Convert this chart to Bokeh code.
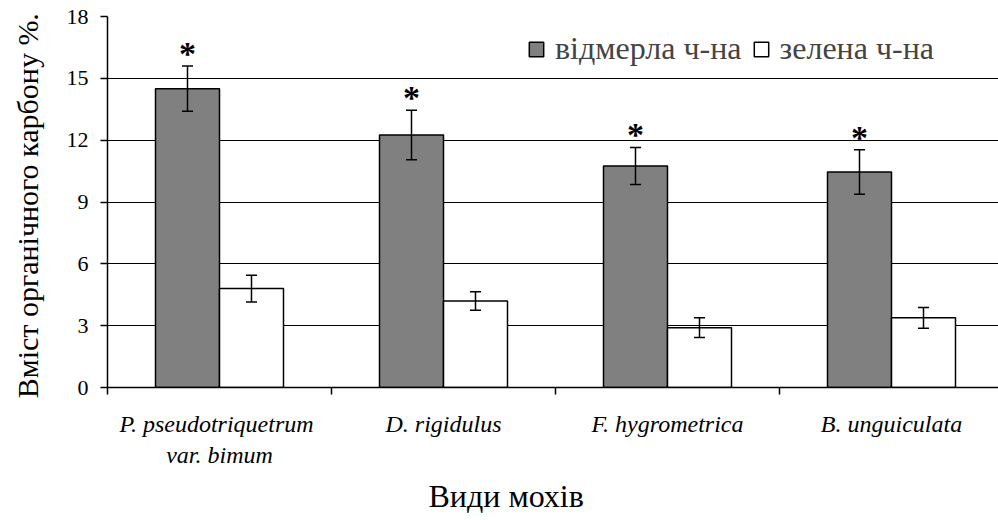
from bokeh.plotting import figure
from bokeh.models import (FixedTicker, ColumnDataSource, Whisker, TeeHead, Legend,
                          LegendItem, Title, Range1d)
from bokeh.core.properties import value
from bokeh.embed import file_html
from bokeh.resources import INLINE

species = ["P.  pseudotriquetrum\nvar. bimum", "D. rigidulus", "F. hygrometrica", "B. unguiculata"]
dead = [14.5, 12.25, 10.75, 10.45]
dead_err = [1.1, 1.2, 0.9, 1.08]
green = [4.8, 4.2, 2.9, 3.38]
green_err = [0.65, 0.45, 0.48, 0.5]
y_ticks = [0, 3, 6, 9, 12, 15, 18]

SERIF = "Liberation Serif"
BW = 0.2857

p = figure(width=998, height=520, output_backend="svg", toolbar_location=None,
           x_range=Range1d(0, 891 / 224), y_range=Range1d(0, 18),
           min_border_left=107, min_border_right=0, min_border_top=16, min_border_bottom=133)
p.outline_line_color = None
p.background_fill_color = "white"

centers = [i + 0.5 for i in range(len(species))]
xd = [c - BW / 2 for c in centers]
xg = [c + BW / 2 for c in centers]

src = ColumnDataSource(dict(
    xd=xd, xg=xg, dead=dead, green=green,
    d_up=[v + e for v, e in zip(dead, dead_err)],
    d_lo=[v - e for v, e in zip(dead, dead_err)],
    g_up=[v + e for v, e in zip(green, green_err)],
    g_lo=[v - e for v, e in zip(green, green_err)],
    star_y=[v + e + 0.62 for v, e in zip(dead, dead_err)],
    star=["*"] * len(dead),
))

r1 = p.vbar(x="xd", top="dead", width=BW, source=src, fill_color="#808080",
            line_color="black", line_width=1.5)
r2 = p.vbar(x="xg", top="green", width=BW, source=src, fill_color="white",
            line_color="black", line_width=1.5)

for base, up, lo in (("xd", "d_up", "d_lo"), ("xg", "g_up", "g_lo")):
    w = Whisker(base=base, upper=up, lower=lo, source=src, dimension="height",
                line_color="black", line_width=1.5, level="overlay",
                upper_head=TeeHead(size=11, line_color="black", line_width=1.5),
                lower_head=TeeHead(size=11, line_color="black", line_width=1.5))
    p.add_layout(w)

p.text(x="xd", y="star_y", text="star", source=src, text_font=value(SERIF),
       text_font_size="34px", text_font_style="bold", text_align="center",
       text_baseline="middle", text_color="black")

# axes
p.yaxis.ticker = FixedTicker(ticks=y_ticks)
p.yaxis.major_label_text_font = SERIF
p.yaxis.major_label_text_font_size = "22px"
p.yaxis.major_label_text_color = "black"
p.yaxis.major_tick_out = 7
p.yaxis.major_tick_in = 0
p.yaxis.minor_tick_line_color = None
p.yaxis.axis_line_width = 1.5
p.yaxis.axis_line_color = "black"
p.yaxis.major_tick_line_width = 1.5
p.yaxis.major_label_standoff = 12
p.yaxis.axis_label = "Вміст органічного карбону  %."
p.yaxis.axis_label_text_font = SERIF
p.yaxis.axis_label_text_font_size = "30px"
p.yaxis.axis_label_text_font_style = "normal"
p.yaxis.axis_label_text_color = "black"
p.yaxis.axis_label_standoff = 20

p.xaxis.ticker = FixedTicker(ticks=centers, minor_ticks=list(range(len(species) + 1)))
p.xaxis.major_label_overrides = {c: s for c, s in zip(centers, species)}
p.xaxis.major_tick_line_color = None
p.xaxis.minor_tick_out = 7
p.xaxis.minor_tick_in = 0
p.xaxis.minor_tick_line_width = 1.5
p.xaxis.minor_tick_line_color = "black"
p.xaxis.axis_line_width = 1.5
p.xaxis.axis_line_color = "black"
p.xaxis.major_label_text_font = SERIF
p.xaxis.major_label_text_font_size = "24px"
p.xaxis.major_label_text_font_style = "italic"
p.xaxis.major_label_text_color = "black"
p.xaxis.major_label_standoff = 16

p.xgrid.grid_line_color = None
p.ygrid.ticker = FixedTicker(ticks=y_ticks)
p.ygrid.grid_line_color = "black"
p.ygrid.grid_line_width = 1.2
p.ygrid.level = "underlay"

xt = Title(text="Види мохів", text_font=SERIF, text_font_size="32px",
           text_font_style="normal", text_color="black", align="left",
           offset=321, standoff=10)
p.add_layout(xt, "below")

legend = Legend(items=[LegendItem(label="відмерла ч-на", renderers=[r1]),
                       LegendItem(label="зелена ч-на", renderers=[r2])],
                orientation="horizontal", location=(420, 320),
                label_text_font=SERIF, label_text_font_size="32px",
                glyph_width=18, glyph_height=18, label_standoff=10, spacing=10,
                padding=0, margin=0, border_line_color=None,
                background_fill_alpha=0)
p.add_layout(legend)

open("out.html", "w").write(file_html(p, INLINE))
